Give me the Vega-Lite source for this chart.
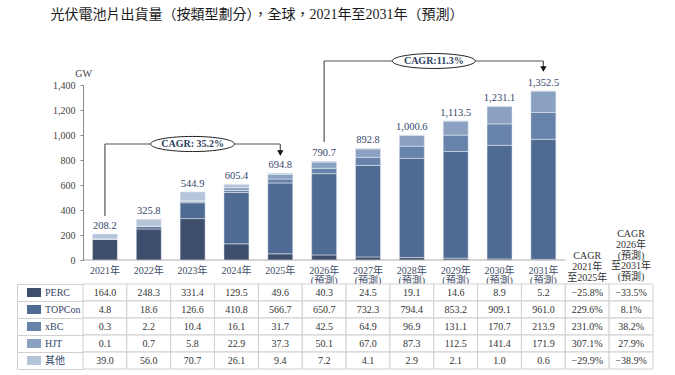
{
  "$schema": "https://vega.github.io/schema/vega-lite/v6.json",
  "width": 570,
  "height": 175,
  "autosize": {"type": "none"},
  "padding": {"left": 83, "top": 85, "right": 22, "bottom": 115},
  "background": "white",
  "config": {
    "view": {"stroke": null},
    "font": "Liberation Serif, Noto Sans CJK TC",
    "axis": {"labelFont": "Liberation Serif, Noto Sans CJK TC", "titleFont": "Liberation Serif, Noto Sans CJK TC"},
    "legend": {"labelFont": "Liberation Serif, Noto Sans CJK TC"}
  },
  "title": {
    "text": "光伏電池片出貨量（按類型劃分），全球，2021年至2031年（預測）",
    "font": "Liberation Serif, Noto Sans CJK TC",
    "fontSize": 14,
    "fontWeight": "normal",
    "color": "#1a1a1a",
    "anchor": "middle",
    "frame": "group",
    "dx": -111,
    "baseline": "bottom",
    "offset": 16
  },
  "datasets": {
    "shipments": [
      {"year": "2021", "series": "PERC", "value": 164.0},
      {"year": "2021", "series": "TOPCon", "value": 4.8},
      {"year": "2021", "series": "xBC", "value": 0.3},
      {"year": "2021", "series": "HJT", "value": 0.1},
      {"year": "2021", "series": "其他", "value": 39.0},
      {"year": "2022", "series": "PERC", "value": 248.3},
      {"year": "2022", "series": "TOPCon", "value": 18.6},
      {"year": "2022", "series": "xBC", "value": 2.2},
      {"year": "2022", "series": "HJT", "value": 0.7},
      {"year": "2022", "series": "其他", "value": 56.0},
      {"year": "2023", "series": "PERC", "value": 331.4},
      {"year": "2023", "series": "TOPCon", "value": 126.6},
      {"year": "2023", "series": "xBC", "value": 10.4},
      {"year": "2023", "series": "HJT", "value": 5.8},
      {"year": "2023", "series": "其他", "value": 70.7},
      {"year": "2024", "series": "PERC", "value": 129.5},
      {"year": "2024", "series": "TOPCon", "value": 410.8},
      {"year": "2024", "series": "xBC", "value": 16.1},
      {"year": "2024", "series": "HJT", "value": 22.9},
      {"year": "2024", "series": "其他", "value": 26.1},
      {"year": "2025", "series": "PERC", "value": 49.6},
      {"year": "2025", "series": "TOPCon", "value": 566.7},
      {"year": "2025", "series": "xBC", "value": 31.7},
      {"year": "2025", "series": "HJT", "value": 37.3},
      {"year": "2025", "series": "其他", "value": 9.4},
      {"year": "2026", "series": "PERC", "value": 40.3},
      {"year": "2026", "series": "TOPCon", "value": 650.7},
      {"year": "2026", "series": "xBC", "value": 42.5},
      {"year": "2026", "series": "HJT", "value": 50.1},
      {"year": "2026", "series": "其他", "value": 7.2},
      {"year": "2027", "series": "PERC", "value": 24.5},
      {"year": "2027", "series": "TOPCon", "value": 732.3},
      {"year": "2027", "series": "xBC", "value": 64.9},
      {"year": "2027", "series": "HJT", "value": 67.0},
      {"year": "2027", "series": "其他", "value": 4.1},
      {"year": "2028", "series": "PERC", "value": 19.1},
      {"year": "2028", "series": "TOPCon", "value": 794.4},
      {"year": "2028", "series": "xBC", "value": 96.9},
      {"year": "2028", "series": "HJT", "value": 87.3},
      {"year": "2028", "series": "其他", "value": 2.9},
      {"year": "2029", "series": "PERC", "value": 14.6},
      {"year": "2029", "series": "TOPCon", "value": 853.2},
      {"year": "2029", "series": "xBC", "value": 131.1},
      {"year": "2029", "series": "HJT", "value": 112.5},
      {"year": "2029", "series": "其他", "value": 2.1},
      {"year": "2030", "series": "PERC", "value": 8.9},
      {"year": "2030", "series": "TOPCon", "value": 909.1},
      {"year": "2030", "series": "xBC", "value": 170.7},
      {"year": "2030", "series": "HJT", "value": 141.4},
      {"year": "2030", "series": "其他", "value": 1.0},
      {"year": "2031", "series": "PERC", "value": 5.2},
      {"year": "2031", "series": "TOPCon", "value": 961.0},
      {"year": "2031", "series": "xBC", "value": 213.9},
      {"year": "2031", "series": "HJT", "value": 171.9},
      {"year": "2031", "series": "其他", "value": 0.6}
    ],
    "totals": [
      {"year": "2021", "total": 208.2},
      {"year": "2022", "total": 325.8},
      {"year": "2023", "total": 544.9},
      {"year": "2024", "total": 605.4},
      {"year": "2025", "total": 694.8},
      {"year": "2026", "total": 790.7},
      {"year": "2027", "total": 892.8},
      {"year": "2028", "total": 1000.6},
      {"year": "2029", "total": 1113.5},
      {"year": "2030", "total": 1231.1},
      {"year": "2031", "total": 1352.5}
    ],
    "cagr": [
      {"period": "2021-2025", "series": "PERC", "rate": -0.258},
      {"period": "2021-2025", "series": "TOPCon", "rate": 2.296},
      {"period": "2021-2025", "series": "xBC", "rate": 2.310},
      {"period": "2021-2025", "series": "HJT", "rate": 3.071},
      {"period": "2021-2025", "series": "其他", "rate": -0.299},
      {"period": "2026-2031", "series": "PERC", "rate": -0.335},
      {"period": "2026-2031", "series": "TOPCon", "rate": 0.081},
      {"period": "2026-2031", "series": "xBC", "rate": 0.382},
      {"period": "2026-2031", "series": "HJT", "rate": 0.279},
      {"period": "2026-2031", "series": "其他", "rate": -0.389}
    ]
  },
  "layer": [
    {
      "data": {"name": "shipments"},
      "transform": [
        {"calculate": "indexof(['PERC','TOPCon','xBC','HJT','其他'], datum.series)", "as": "ord"}
      ],
      "mark": {"type": "bar", "width": {"band": 0.57}, "stroke": "#e9eef5", "strokeWidth": 0.5},
      "encoding": {
        "x": {
          "field": "year",
          "type": "nominal",
          "scale": {
            "type": "band",
            "domain": ["2021", "2022", "2023", "2024", "2025", "2026", "2027", "2028", "2029", "2030", "2031", "2021-2025", "2026-2031"],
            "paddingInner": 0,
            "paddingOuter": 0
          },
          "axis": {
            "title": null,
            "orient": "bottom",
            "domain": false,
            "ticks": false,
            "tickSize": 0,
            "labelAngle": 0,
            "labelOverlap": false,
            "labelFlush": false,
            "labelBaseline": "middle",
            "labelPadding": 10,
            "labelLineHeight": 10.75,
            "labelFontSize": 10,
            "labelColor": "#3e4c66",
            "labelLimit": 200,
            "labelExpr": "datum.value == '2021-2025' || datum.value == '2026-2031' ? '' : toNumber(datum.value) >= 2026 ? [datum.value + '年', '(預測)'] : datum.value + '年'"
          }
        },
        "y": {
          "field": "value",
          "type": "quantitative",
          "stack": "zero",
          "scale": {"domain": [0, 1400], "nice": false},
          "axis": {
            "orient": "left",
            "values": [0, 200, 400, 600, 800, 1000, 1200, 1400],
            "format": ",d",
            "grid": false,
            "labelOverlap": false,
            "domainColor": "#8a8a8a",
            "tickColor": "#8a8a8a",
            "tickSize": 3,
            "labelPadding": 5,
            "labelFontSize": 10,
            "labelColor": "#444444",
            "title": "GW",
            "titleAngle": 0,
            "titleX": 0,
            "titleY": -12,
            "titleAlign": "center",
            "titleBaseline": "middle",
            "titleFontWeight": "normal",
            "titleFontSize": 10,
            "titleColor": "#444444"
          }
        },
        "color": {
          "field": "series",
          "type": "nominal",
          "scale": {
            "domain": ["PERC", "TOPCon", "xBC", "HJT", "其他"],
            "range": ["#3e4f6e", "#4f6b94", "#6783ab", "#8ba1c1", "#b5c4d9"]
          },
          "legend": {
            "orient": "none",
            "legendX": -56,
            "legendY": 199,
            "title": null,
            "direction": "vertical",
            "symbolType": "M-1,-0.64H1V0.64H-1Z",
            "symbolSize": 196,
            "symbolStrokeWidth": 0,
            "symbolOpacity": 1,
            "clipHeight": 17,
            "rowPadding": 0,
            "padding": 0,
            "labelOffset": 4,
            "labelFontSize": 10,
            "labelColor": "#34466b",
            "labelBaseline": "middle"
          }
        },
        "order": {"field": "ord", "type": "quantitative"}
      }
    },
    {
      "data": {"name": "totals"},
      "mark": {"type": "tick", "orient": "horizontal", "size": 44, "thickness": 1, "color": "#8a8a8a"},
      "encoding": {
        "x": {"field": "year", "type": "nominal"},
        "y": {"datum": 0, "scale": {"domain": [0, 1400], "nice": false}, "axis": null}
      }
    },
    {
      "data": {"name": "totals"},
      "mark": {"type": "text", "baseline": "bottom", "dy": -3, "fontSize": 10.5, "color": "#34466b"},
      "encoding": {
        "x": {"field": "year", "type": "nominal"},
        "y": {"field": "total", "type": "quantitative", "scale": {"domain": [0, 1400], "nice": false}, "axis": null},
        "text": {"field": "total", "type": "quantitative", "format": ",.1f"}
      }
    },
    {
      "data": {"values": [{}]},
      "mark": {"type": "text", "fontSize": 10, "color": "#333333", "baseline": "middle", "lineBreak": "\n", "lineHeight": 10.75},
      "encoding": {"x": {"datum": "2021-2025", "type": "nominal"}, "y": {"datum": 32, "scale": {"domain": [0, 1400], "nice": false}, "axis": null}, "text": {"value": "CAGR\n2021年\n至2025年"}}
    },
    {
      "data": {"values": [{}]},
      "mark": {"type": "text", "fontSize": 10, "color": "#333333", "baseline": "middle", "lineBreak": "\n", "lineHeight": 10.75},
      "encoding": {"x": {"datum": "2026-2031", "type": "nominal"}, "y": {"datum": 208, "scale": {"domain": [0, 1400], "nice": false}, "axis": null}, "text": {"value": "CAGR\n2026年\n(預測)\n至2031年\n(預測)"}}
    },
    {
      "data": {"values": [{}]},
      "mark": {"type": "rule", "color": "#555555", "strokeWidth": 1.2},
      "encoding": {"x": {"datum": "2021", "type": "nominal"}, "y": {"datum": 352, "scale": {"domain": [0, 1400], "nice": false}, "axis": null}, "y2": {"datum": 928}}
    },
    {
      "data": {"values": [{}]},
      "mark": {"type": "rule", "color": "#555555", "strokeWidth": 1.2},
      "encoding": {"x": {"datum": "2021", "type": "nominal"}, "x2": {"datum": "2025"}, "y": {"datum": 928, "scale": {"domain": [0, 1400], "nice": false}, "axis": null}}
    },
    {
      "data": {"values": [{}]},
      "mark": {"type": "rule", "color": "#555555", "strokeWidth": 1.2},
      "encoding": {"x": {"datum": "2025", "type": "nominal"}, "y": {"datum": 928, "scale": {"domain": [0, 1400], "nice": false}, "axis": null}, "y2": {"datum": 840}}
    },
    {
      "data": {"values": [{}]},
      "mark": {"type": "point", "shape": "triangle-down", "filled": true, "color": "#111111", "size": 40, "opacity": 1},
      "encoding": {"x": {"datum": "2025", "type": "nominal"}, "y": {"datum": 856, "scale": {"domain": [0, 1400], "nice": false}, "axis": null}}
    },
    {
      "data": {"values": [{}]},
      "mark": {"type": "rule", "color": "#555555", "strokeWidth": 1.2},
      "encoding": {"x": {"datum": "2026", "type": "nominal"}, "y": {"datum": 944, "scale": {"domain": [0, 1400], "nice": false}, "axis": null}, "y2": {"datum": 1592}}
    },
    {
      "data": {"values": [{}]},
      "mark": {"type": "rule", "color": "#555555", "strokeWidth": 1.2},
      "encoding": {"x": {"datum": "2026", "type": "nominal"}, "x2": {"datum": "2031"}, "y": {"datum": 1592, "scale": {"domain": [0, 1400], "nice": false}, "axis": null}}
    },
    {
      "data": {"values": [{}]},
      "mark": {"type": "rule", "color": "#555555", "strokeWidth": 1.2},
      "encoding": {"x": {"datum": "2031", "type": "nominal"}, "y": {"datum": 1592, "scale": {"domain": [0, 1400], "nice": false}, "axis": null}, "y2": {"datum": 1512}}
    },
    {
      "data": {"values": [{}]},
      "mark": {"type": "point", "shape": "triangle-down", "filled": true, "color": "#111111", "size": 40, "opacity": 1},
      "encoding": {"x": {"datum": "2031", "type": "nominal"}, "y": {"datum": 1528, "scale": {"domain": [0, 1400], "nice": false}, "axis": null}}
    },
    {
      "data": {"values": [{}]},
      "mark": {"type": "point", "shape": "M-1,0A1,0.18,0,1,1,1,0A1,0.18,0,1,1,-1,0Z", "filled": false, "fill": "white", "fillOpacity": 1, "stroke": "#222222", "strokeWidth": 1, "size": 7056, "opacity": 1},
      "encoding": {"x": {"datum": "2023", "type": "nominal"}, "y": {"datum": 928, "scale": {"domain": [0, 1400], "nice": false}, "axis": null}}
    },
    {
      "data": {"values": [{}]},
      "mark": {"type": "point", "shape": "M-1,0A1,0.18,0,1,1,1,0A1,0.18,0,1,1,-1,0Z", "filled": false, "fill": "white", "fillOpacity": 1, "stroke": "#222222", "strokeWidth": 1, "size": 6889, "opacity": 1},
      "encoding": {"x": {"datum": "2028", "type": "nominal", "bandPosition": 1}, "y": {"datum": 1592, "scale": {"domain": [0, 1400], "nice": false}, "axis": null}}
    },
    {
      "data": {"values": [{}]},
      "mark": {"type": "text", "fontSize": 10, "fontWeight": "bold", "color": "#2e3f60", "baseline": "middle"},
      "encoding": {"x": {"datum": "2023", "type": "nominal"}, "y": {"datum": 928, "scale": {"domain": [0, 1400], "nice": false}, "axis": null}, "text": {"value": "CAGR: 35.2%"}}
    },
    {
      "data": {"values": [{}]},
      "mark": {"type": "text", "fontSize": 10, "fontWeight": "bold", "color": "#2e3f60", "baseline": "middle"},
      "encoding": {"x": {"datum": "2028", "type": "nominal", "bandPosition": 1}, "y": {"datum": 1592, "scale": {"domain": [0, 1400], "nice": false}, "axis": null}, "text": {"value": "CAGR:11.3%"}}
    },
    {
      "data": {"name": "shipments"},
      "mark": {"type": "rect", "fill": "white", "stroke": "#d0d0d0", "strokeWidth": 1},
      "encoding": {
        "x": {"field": "year", "type": "nominal"},
        "y": {
          "field": "series",
          "type": "nominal",
          "scale": {"type": "band", "domain": ["PERC", "TOPCon", "xBC", "HJT", "其他"], "range": [199, 284], "paddingInner": 0, "paddingOuter": 0},
          "axis": {
            "orient": "left",
            "offset": 66,
            "tickSize": -66,
            "tickBand": "extent",
            "labels": false,
            "title": null,
            "grid": false,
            "domain": true,
            "domainColor": "#d0d0d0",
            "tickColor": "#d0d0d0",
            "domainWidth": 1,
            "tickWidth": 1
          }
        }
      }
    },
    {
      "data": {"name": "shipments"},
      "mark": {"type": "text", "fontSize": 10, "color": "#333333", "baseline": "middle"},
      "encoding": {
        "x": {"field": "year", "type": "nominal"},
        "y": {"field": "series", "type": "nominal", "scale": {"type": "band", "domain": ["PERC", "TOPCon", "xBC", "HJT", "其他"], "range": [199, 284], "paddingInner": 0, "paddingOuter": 0}, "axis": null},
        "text": {"field": "value", "type": "quantitative", "format": ".1f"}
      }
    },
    {
      "data": {"name": "cagr"},
      "mark": {"type": "rect", "fill": "white", "stroke": "#d0d0d0", "strokeWidth": 1},
      "encoding": {
        "x": {"field": "period", "type": "nominal"},
        "y": {"field": "series", "type": "nominal", "scale": {"type": "band", "domain": ["PERC", "TOPCon", "xBC", "HJT", "其他"], "range": [199, 284], "paddingInner": 0, "paddingOuter": 0}, "axis": null}
      }
    },
    {
      "data": {"name": "cagr"},
      "mark": {"type": "text", "fontSize": 10, "color": "#333333", "baseline": "middle"},
      "encoding": {
        "x": {"field": "period", "type": "nominal"},
        "y": {"field": "series", "type": "nominal", "scale": {"type": "band", "domain": ["PERC", "TOPCon", "xBC", "HJT", "其他"], "range": [199, 284], "paddingInner": 0, "paddingOuter": 0}, "axis": null},
        "text": {"field": "rate", "type": "quantitative", "format": ".1%"}
      }
    }
  ],
  "resolve": {"scale": {"y": "independent"}, "axis": {"y": "independent"}}
}
